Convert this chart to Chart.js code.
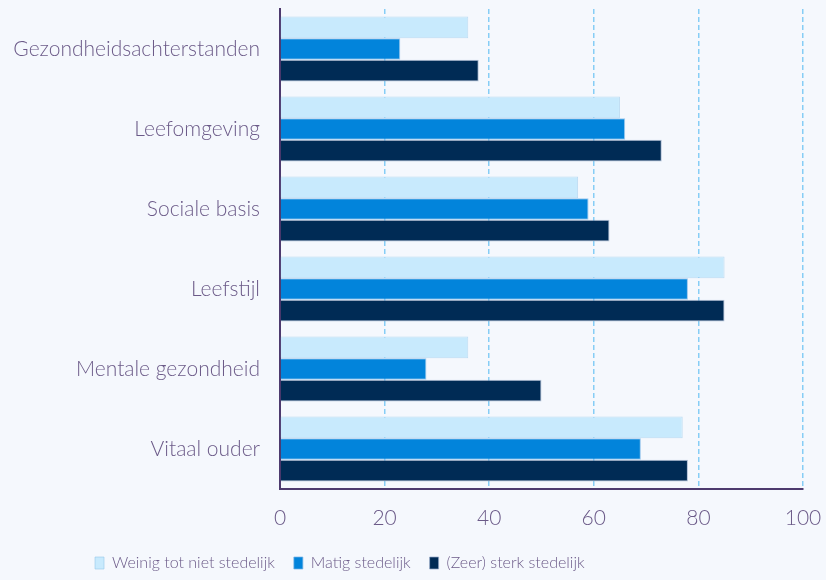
<!DOCTYPE html>
<html>
<head>
<meta charset="utf-8">
<script src="https://cdn.jsdelivr.net/npm/chart.js@4.4.0/dist/chart.umd.min.js"></script>
<style>
  html, body { margin: 0; padding: 0; background: #f5f8fd; }
  #wrap { width: 826px; height: 580px; }
</style>
</head>
<body>
<div id="wrap"><canvas id="myChart" width="826" height="580"></canvas></div>
<script>
const categories = ['Gezondheidsachterstanden', 'Leefomgeving', 'Sociale basis', 'Leefstijl', 'Mentale gezondheid', 'Vitaal ouder'];
const weinigStedelijk = [36, 65, 57, 85, 36, 77];
const matigStedelijk = [23, 66, 59, 78, 28, 69];
const sterkStedelijk = [38, 73, 63, 85, 50, 78];
const xTicks = [0, 20, 40, 60, 80, 100];

const textColor = '#6b5a88';
const axisColor = '#4d3a6e';
const gridColor = '#86cdf6';

// legend: taller box and shifted left like the picture
const legendPlace = {
    id: 'legendPlace',
    beforeInit(chart) {
        const fit = chart.legend.fit;
        chart.legend.fit = function() {
            fit.bind(chart.legend)();
            this.height = 44;
        };
    },
    afterLayout(chart) {
        chart.legend.left = 76;
    }
};

const ctx = document.getElementById('myChart').getContext('2d');
const myChart = new Chart(ctx, {
    type: 'bar',
    data: {
        labels: categories,
        datasets: [{
            label: 'Weinig tot niet stedelijk',
            data: weinigStedelijk,
            backgroundColor: '#c8eafd',
            borderColor: 'rgba(150,200,235,0.6)',
            borderWidth: 1
        }, {
            label: 'Matig stedelijk',
            data: matigStedelijk,
            backgroundColor: '#0284db',
            borderColor: 'rgba(120,180,230,0.7)',
            borderWidth: 1
        }, {
            label: '(Zeer) sterk stedelijk',
            data: sterkStedelijk,
            backgroundColor: '#002b55',
            borderColor: 'rgba(150,170,200,0.7)',
            borderWidth: 1
        }]
    },
    options: {
        indexAxis: 'y',
        responsive: false,
        animation: false,
        datasets: {
            bar: {
                categoryPercentage: 0.81,
                barPercentage: 1
            }
        },
        layout: {
            padding: { top: 9, right: 23, left: 0, bottom: 0 }
        },
        scales: {
            x: {
                min: 0,
                max: 100,
                afterBuildTicks: function(scale) {
                    scale.ticks = xTicks.map(v => ({ value: v }));
                },
                afterFit: function(scale) {
                    scale.height = 47;
                    scale.paddingLeft = 0;
                    scale.paddingRight = 0;
                },
                grid: {
                    color: gridColor,
                    lineWidth: 1.5,
                    drawTicks: false
                },
                border: {
                    display: true,
                    color: axisColor,
                    width: 2,
                    dash: [5, 3]
                },
                ticks: {
                    color: textColor,
                    padding: 17,
                    font: { family: 'Lato', size: 21, weight: 300 }
                }
            },
            y: {
                afterFit: function(scale) {
                    scale.width = 280;
                    scale.paddingTop = 0;
                    scale.paddingBottom = 0;
                },
                grid: {
                    display: false,
                    drawTicks: false
                },
                border: {
                    display: true,
                    color: axisColor,
                    width: 2
                },
                ticks: {
                    color: textColor,
                    padding: 20,
                    font: { family: 'Lato', size: 21, weight: 300 }
                }
            }
        },
        plugins: {
            legend: {
                position: 'bottom',
                align: 'start',
                labels: {
                    color: textColor,
                    boxWidth: 9,
                    boxHeight: 12,
                    padding: 19,
                    font: { family: 'Lato', size: 16, weight: 300 }
                }
            },
            tooltip: { enabled: false }
        }
    },
    plugins: [legendPlace]
});
</script>
</body>
</html>
